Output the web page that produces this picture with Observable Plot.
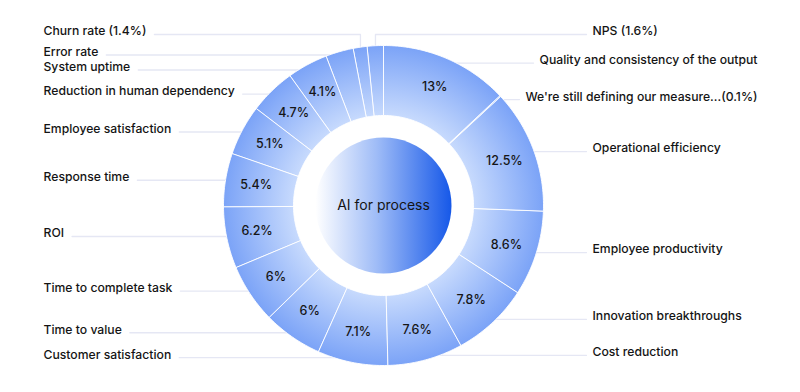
<!DOCTYPE html>
<html><head><meta charset="utf-8">
<script src="https://cdn.jsdelivr.net/npm/d3@7"></script>
<script src="https://cdn.jsdelivr.net/npm/@observablehq/plot@0.6"></script>
<style>
html,body{margin:0;padding:0;background:#fff;}
#chart svg{display:block;}
</style>
</head><body>
<div id="chart"></div>
<script>
// ---- data ----
const categories = [
  "Quality and consistency of the output",
  "We're still defining our measure...",
  "Operational efficiency",
  "Employee productivity",
  "Innovation breakthroughs",
  "Cost reduction",
  "Customer satisfaction",
  "Time to value",
  "Time to complete task",
  "ROI",
  "Response time",
  "Employee satisfaction",
  "Reduction in human dependency",
  "System uptime",
  "Error rate",
  "Churn rate",
  "NPS"
];
const values = [13, 0.1, 12.5, 8.6, 7.8, 7.6, 7.1, 6, 6, 6.2, 5.4, 5.1, 4.7, 4.1, 2.8, 1.4, 1.6];
const centerTitle = "AI for process";

// ---- layout constants ----
const W = 800, H = 392;
const cx = 383, cy = 205, R = 160, R0 = 90, RC = 68;
const FONT = "Inter, 'Noto Sans', sans-serif";
const LABEL_SIZE = 12.2;

const total = d3.sum(values);
let acc = 0;
const slices = categories.map((name, i) => {
  const a0 = acc / total * 2 * Math.PI;
  acc += values[i];
  const a1 = acc / total * 2 * Math.PI;
  return {i, name, value: values[i], a0, a1, mid: (a0 + a1) / 2};
});
const px = (r, a) => cx + r * Math.sin(a);
const py = (r, a) => cy - r * Math.cos(a);

// ring polygons
const ring = slices.flatMap(s => {
  const n = Math.max(2, Math.ceil((s.a1 - s.a0) / (Math.PI / 180)) + 1);
  const pts = [];
  for (let k = 0; k < n; k++) { const a = s.a0 + (s.a1 - s.a0) * k / (n - 1); pts.push({i: s.i, x: px(R, a), y: py(R, a)}); }
  for (let k = n - 1; k >= 0; k--) { const a = s.a0 + (s.a1 - s.a0) * k / (n - 1); pts.push({i: s.i, x: px(R0, a), y: py(R0, a)}); }
  return pts;
});

// inside value labels
const RI = 129;
const inner = slices.filter(s => s.value >= 4).map(s => ({text: `${s.value}%`, x: px(RI, s.mid), y: py(RI, s.mid)}));

// outside labels
const ctx = document.createElement("canvas").getContext("2d");
ctx.font = `500 ${LABEL_SIZE}px Inter`;
const TOP_ROW = cy - R - 11;
const labels = slices.map(s => {
  const text = s.value < 2 ? s.name + (s.name.endsWith("...") ? "" : " ") + `(${s.value}%)` : s.name;
  const side = Math.sin(s.mid) > -0.1 ? 1 : -1;
  const nearTop = Math.abs(Math.sin(s.mid)) < 0.2 && Math.cos(s.mid) > 0;
  return {
    i: s.i, text, side, nearTop,
    ax: px(R, s.mid), ay: py(R, s.mid),
    ly: nearTop ? TOP_ROW : cy - 0.97 * R * Math.cos(s.mid),
    w: ctx.measureText(text).width
  };
});
function relax(list, gap, minY) {
  list.sort((a, b) => a.ly - b.ly);
  for (let it = 0; it < 500; it++) {
    let moved = false;
    for (let j = 1; j < list.length; j++) {
      const d = list[j].ly - list[j - 1].ly;
      if (d < gap - 0.01) { const m = (gap - d) / 2; list[j - 1].ly -= m; list[j].ly += m; moved = true; }
    }
    if (list.length && list[0].ly < minY) { list[0].ly = minY; moved = true; }
    if (!moved) break;
  }
}
relax(labels.filter(l => l.side < 0 && !l.nearTop), 15, TOP_ROW + 15);
relax(labels.filter(l => l.side > 0 && !l.nearTop), 15, TOP_ROW + 15);
labels.forEach(l => {
  if (l.side < 0) { l.x = 43; l.lx = 43 + l.w + 8; }
  else { l.x = Math.min(592, 757 - l.w); l.lx = l.x - 6; }
});
const leaders = labels.flatMap(l => [
  {i: l.i, x: l.lx, y: l.ly},
  {i: l.i, x: l.ax, y: l.ly},
  {i: l.i, x: l.ax, y: l.ay}
]);

const svg = Plot.plot({
  width: W, height: H,
  margin: 0,
  x: {domain: [0, W], range: [0, W], axis: null},
  y: {domain: [0, H], range: [0, H], axis: null},
  style: {fontFamily: FONT, background: "#fff"},
  marks: [
    Plot.line(leaders, {x: "x", y: "y", z: "i", stroke: "#e5e7f4", strokeWidth: 1.3}),
    Plot.line(ring, {x: "x", y: "y", z: "i", curve: "linear-closed", fill: "url(#ringGrad)", stroke: "#ffffff", strokeWidth: 1, strokeOpacity: 0.9}),
    Plot.text(inner, {x: "x", y: "y", text: "text", fontSize: 12.5, fontWeight: 500, fill: "#161616"}),
    Plot.text(labels, {x: "x", y: "ly", text: "text", dy: -3, textAnchor: "start", fontSize: LABEL_SIZE, fontWeight: 500, fill: "#141414"}),
    Plot.dot([{x: cx, y: cy}], {x: "x", y: "y", r: RC, fill: "url(#centerGrad)", stroke: null}),
    Plot.text([centerTitle], {x: () => cx, y: () => cy, text: d => d, fontSize: 14, fontWeight: 400, fill: "#141414"})
  ]
});

const sx = svg.scale("x"), sy = svg.scale("y");
const defs = d3.select(svg).insert("defs", ":first-child");
const rg = defs.append("radialGradient").attr("id", "ringGrad").attr("gradientUnits", "userSpaceOnUse")
  .attr("cx", sx.apply(cx)).attr("cy", sy.apply(cy)).attr("r", R);
rg.append("stop").attr("offset", R0 / R).attr("stop-color", "#c7dafd");
rg.append("stop").attr("offset", 1).attr("stop-color", "#7ba3f7");
const lg = defs.append("linearGradient").attr("id", "centerGrad").attr("gradientUnits", "userSpaceOnUse")
  .attr("x1", sx.apply(cx - RC)).attr("x2", sx.apply(cx + RC)).attr("y1", 0).attr("y2", 0);
lg.append("stop").attr("offset", 0).attr("stop-color", "#ffffff");
lg.append("stop").attr("offset", 0.45).attr("stop-color", "#9fbcf7");
lg.append("stop").attr("offset", 1).attr("stop-color", "#1658e8");

document.getElementById("chart").appendChild(svg);
</script>
</body></html>
